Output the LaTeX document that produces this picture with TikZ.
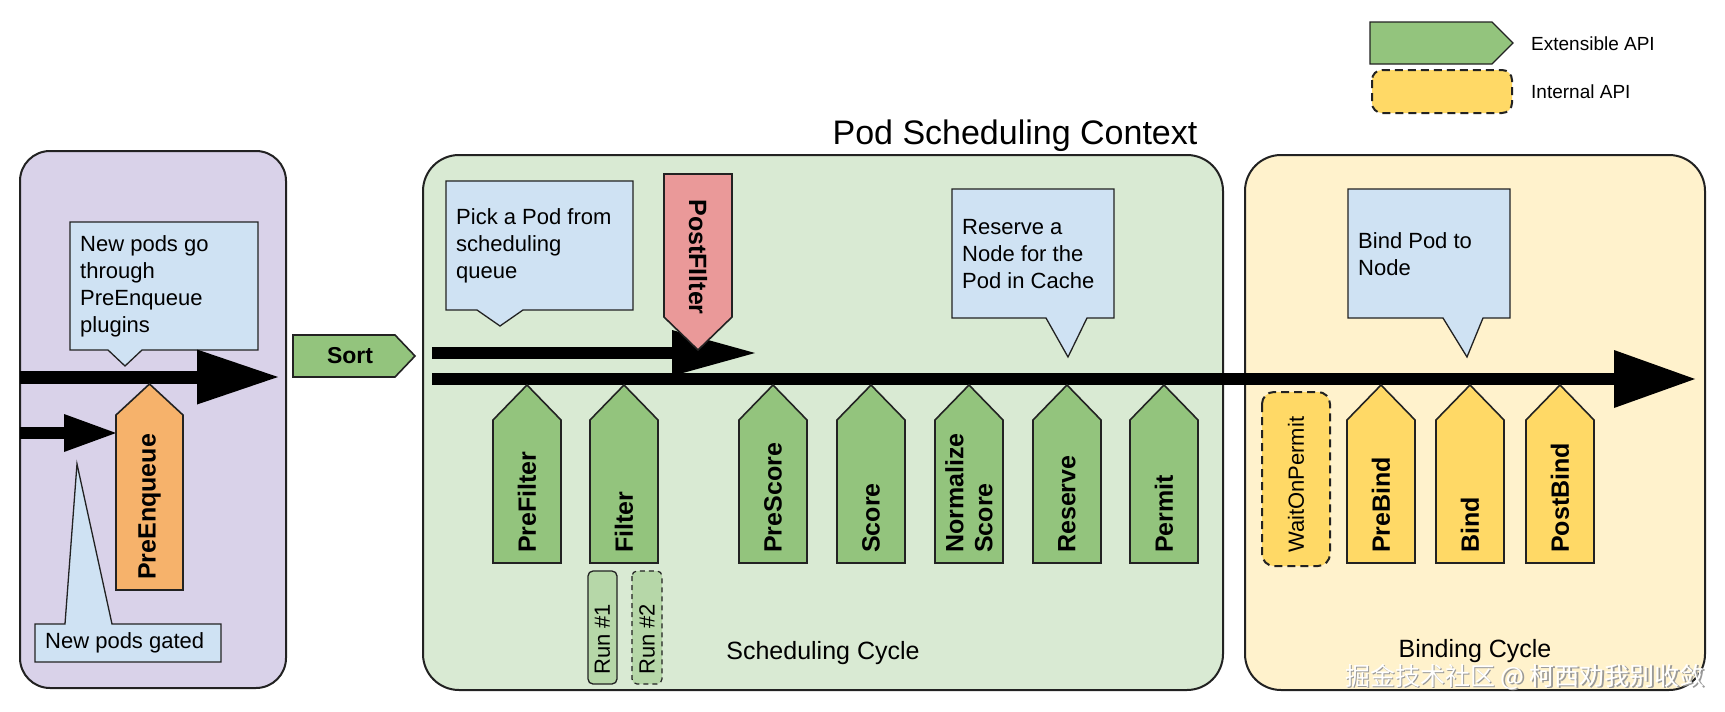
\documentclass[tikz,border=0pt]{standalone}
\usepackage{fontspec}
\setmainfont{Liberation Sans}
\newfontfamily\cjkfont{Noto Sans CJK SC}
\usetikzlibrary{arrows.meta}
\definecolor{purplebg}{HTML}{D9D2E9}
\definecolor{greenbg}{HTML}{D9EAD3}
\definecolor{yellowbg}{HTML}{FFF2CC}
\definecolor{calloutbg}{HTML}{CFE2F3}
\definecolor{plugingreen}{HTML}{93C47D}
\definecolor{pluginyellow}{HTML}{FFD966}
\definecolor{pluginorange}{HTML}{F6B26B}
\definecolor{pluginred}{HTML}{EA9999}
\definecolor{runbg}{HTML}{B6D7A8}
\definecolor{edgecol}{HTML}{222222}
\tikzset{
  cyclebox/.style={draw=edgecol, line width=2pt},
  callout/.style={draw=edgecol, line width=1.3pt, fill=calloutbg, line join=miter},
  plugshape/.style={draw=edgecol, line width=1.6pt, line join=miter},
  calltext/.style={inner sep=0pt, anchor=west, align=left, font=\fontsize{22}{27}\selectfont},
  plugtext/.style={inner sep=0pt, align=left, font=\fontsize{25}{29}\selectfont\bfseries},
  smalltext/.style={inner sep=0pt, font=\fontsize{22}{26}\selectfont},
  labeltext/.style={inner sep=0pt, font=\fontsize{25}{30}\selectfont},
  legendtext/.style={inner sep=0pt, anchor=west, font=\fontsize{19}{23}\selectfont},
  internaldash/.style={dash pattern=on 8pt off 5pt},
  flow/.style n args={3}{draw=black, line width=#1pt,
     -{Triangle[length=#2pt, width=#3pt, line width=0pt]}},
}
\newcommand\plugup[4]{%
  \path[plugshape, fill=#3] (#2-34,563) -- (#2-34,420) -- (#2,385) -- (#2+34,420) -- (#2+34,563) -- cycle;
  \node[plugtext, rotate=90, anchor=west] (#1) at (#2,553) {#4};}
\begin{document}
\begin{tikzpicture}[x=1pt, y=-1pt]
\useasboundingbox (0,0) rectangle (1725,712);
\fill[white] (0,0) rectangle (1725,712);

% cycle boxes
\path[cyclebox, fill=purplebg, rounded corners=30pt] (20,151) rectangle (286,688);
\path[cyclebox, fill=greenbg, rounded corners=36pt] (423,155) rectangle (1223,690);
\path[cyclebox, fill=yellowbg, rounded corners=36pt] (1245,155) rectangle (1705,690);

% title
\node[inner sep=0pt, anchor=base, font=\fontsize{34}{40}\selectfont] (title) at (1015,144) {Pod Scheduling Context};

% legend
\path[plugshape, fill=plugingreen, line width=1.3pt] (1370,22) -- (1492,22) -- (1513,43) -- (1492,64) -- (1370,64) -- cycle;
\node[legendtext] (legext) at (1531,44) {Extensible API};
\path[draw=edgecol, line width=2pt, fill=pluginyellow, rounded corners=10pt, internaldash] (1372,70) rectangle (1512,113);
\node[legendtext] (legint) at (1531,92) {Internal API};

% callouts
\path[callout] (70,222) -- (258,222) -- (258,350) -- (142,350) -- (125,366) -- (108,350) -- (70,350) -- cycle;
\node[calltext] (c1) at (80,286) {New pods go\\through\\PreEnqueue\\plugins};
\path[callout] (35,624) -- (65,624) -- (77,464) -- (112,624) -- (221,624) -- (221,662) -- (35,662) -- cycle;
\node[calltext] (c2) at (45,643) {New pods gated};
\path[callout] (446,181) -- (633,181) -- (633,310) -- (523,310) -- (500,326) -- (477,310) -- (446,310) -- cycle;
\node[calltext] (c3) at (456,246) {Pick a Pod from\\scheduling\\queue};
\path[callout] (952,189) -- (1114,189) -- (1114,318) -- (1087,318) -- (1068,357) -- (1046,318) -- (952,318) -- cycle;
\node[calltext] (c4) at (962,254) {Reserve a\\Node for the\\Pod in Cache};
\path[callout] (1348,189) -- (1510,189) -- (1510,318) -- (1483,318) -- (1467,357) -- (1443,318) -- (1348,318) -- cycle;
\node[calltext] (c5) at (1358,254) {Bind Pod to\\Node};

% flow arrows
\coordinate (la) at (20,377);
\coordinate (lb) at (278,377);
\coordinate (ga) at (20,433);
\coordinate (gb) at (116,433);
\coordinate (ua) at (432,353);
\coordinate (ub) at (755,353);
\coordinate (ma) at (432,379);
\coordinate (mb) at (1695,379);
\draw[flow={13}{81}{55}] (la) -- (lb);
\draw[flow={12}{52}{38}] (ga) -- (gb);
\draw[flow={12}{83}{46}] (ua) -- (ub);
\draw[flow={12}{81}{58}] (ma) -- (mb);

% Sort
\path[plugshape, fill=plugingreen] (293,335) -- (395,335) -- (415,356) -- (395,377) -- (293,377) -- cycle;
\node[inner sep=0pt, font=\fontsize{23}{27}\selectfont\bfseries] (sort) at (350,356) {Sort};

% PreEnqueue
\path[plugshape, fill=pluginorange] (116,590) -- (116,415) -- (149.5,384) -- (183,415) -- (183,590) -- cycle;
\node[plugtext, rotate=90, anchor=west] (preenq) at (149.5,580) {PreEnqueue};

% PostFilter
\path[plugshape, fill=pluginred] (664,174) -- (732,174) -- (732,317) -- (698,350) -- (664,317) -- cycle;
\node[plugtext, rotate=-90] (postf) at (698,257) {PostFIlter};

% scheduling cycle plugins
\plugup{prefilter}{527}{plugingreen}{PreFilter}
\plugup{filter}{624}{plugingreen}{Filter}
\plugup{prescore}{773}{plugingreen}{PreScore}
\plugup{score}{871}{plugingreen}{Score}
\plugup{normscore}{969}{plugingreen}{Normalize\\Score}
\plugup{reserve}{1067}{plugingreen}{Reserve}
\plugup{permit}{1164}{plugingreen}{Permit}

% filter runs
\path[draw=edgecol, line width=1.3pt, fill=runbg, rounded corners=5pt] (588,571) rectangle (617,684);
\node[smalltext, rotate=90, anchor=west] (run1) at (602.5,675) {Run \#1};
\path[draw=edgecol, line width=1.2pt, fill=runbg, rounded corners=5pt, dash pattern=on 5pt off 4pt] (632,571) rectangle (662,684);
\node[smalltext, rotate=90, anchor=west] (run2) at (647,675) {Run \#2};

% binding cycle plugins
\path[draw=edgecol, line width=2pt, fill=pluginyellow, rounded corners=12pt, internaldash] (1262,392) rectangle (1330,566);
\node[smalltext, rotate=90, anchor=west] (waitperm) at (1296,553) {WaitOnPermit};
\plugup{prebind}{1381}{pluginyellow}{PreBind}
\plugup{bind}{1470}{pluginyellow}{Bind}
\plugup{postbind}{1560}{pluginyellow}{PostBind}

% cycle labels
\node[labeltext, anchor=base] (schedcyc) at (823,659) {Scheduling Cycle};
\node[labeltext, anchor=base] (bindcyc) at (1475,657) {Binding Cycle};

% watermark
\node[inner sep=0pt, text=gray!80, font=\cjkfont\fontsize{25}{28}\selectfont] (wmshadow) at (1526.5,678.5) {掘金技术社区 @ 柯西劝我别收敛};
\node[inner sep=0pt, text=white, font=\cjkfont\fontsize{25}{28}\selectfont] (wm) at (1525,677) {掘金技术社区 @ 柯西劝我别收敛};
\end{tikzpicture}
\end{document}
